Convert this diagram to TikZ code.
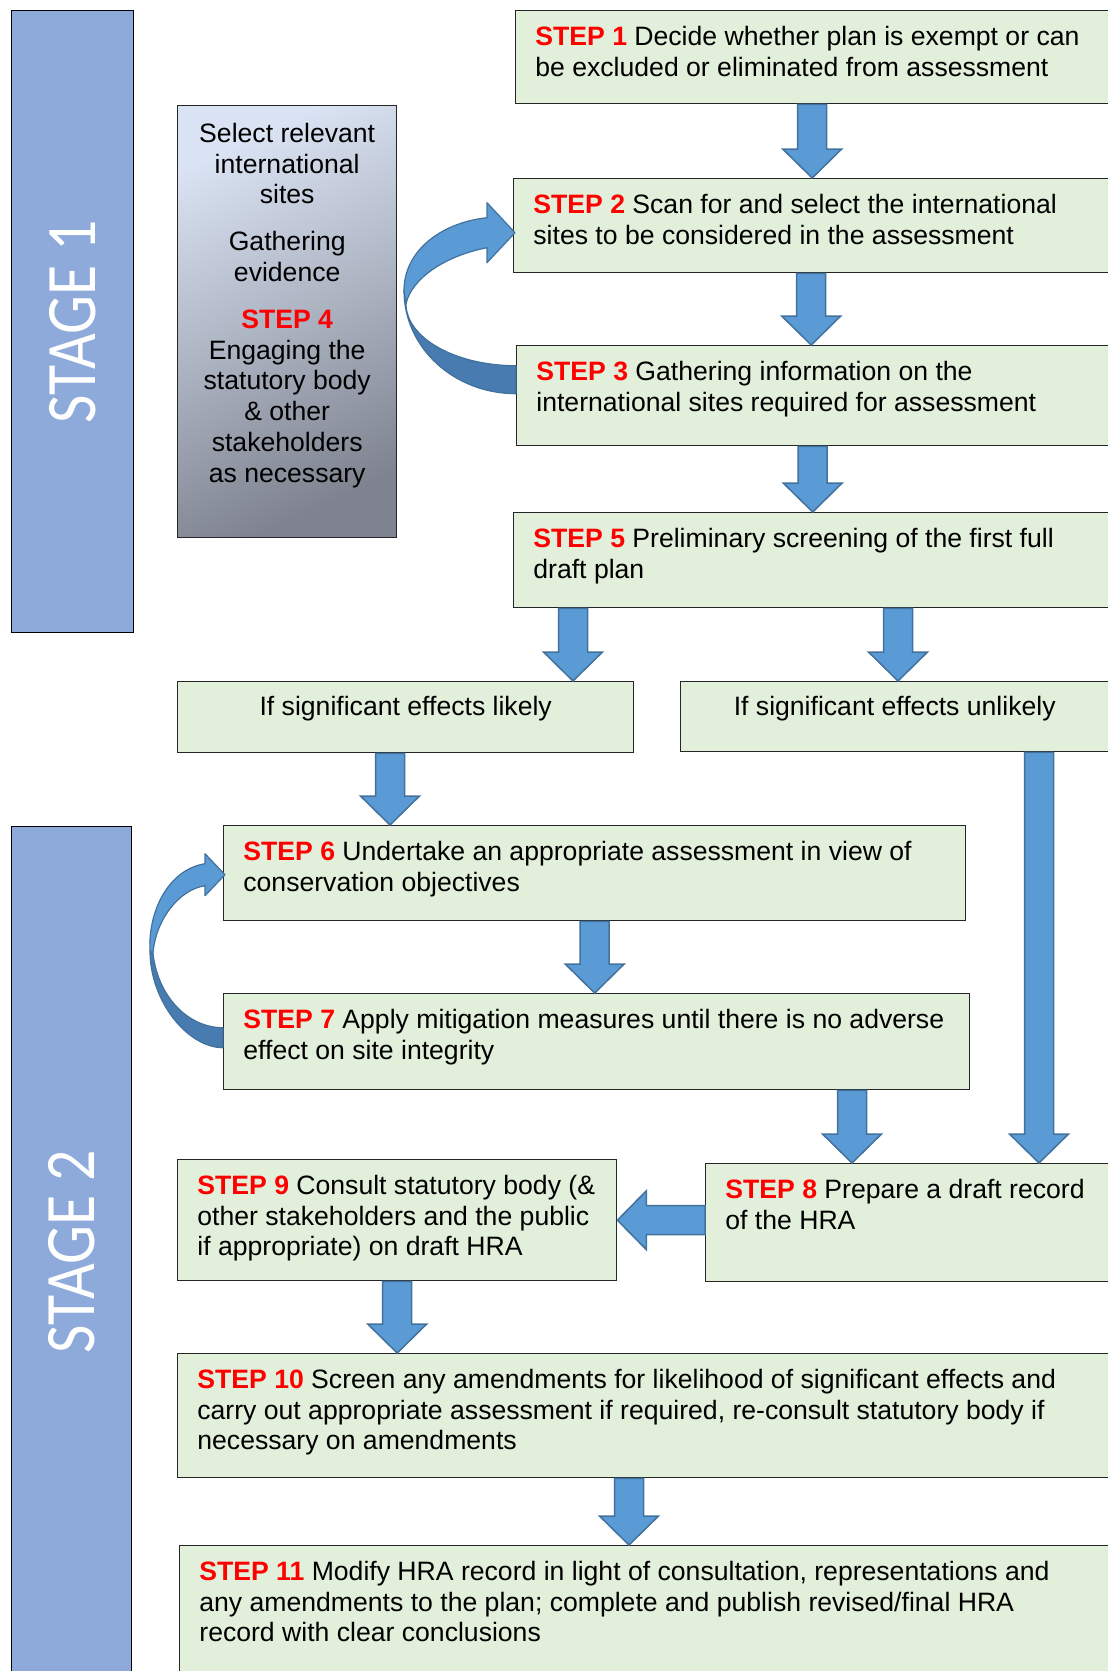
\documentclass[tikz,border=0pt]{standalone}
\usepackage{fontspec}
\usepackage{graphicx}
\setmainfont{Liberation Sans}
\newfontfamily\stagefont{Carlito}
\usetikzlibrary{calc}

\definecolor{stepgreen}{HTML}{E2EFDA}
\definecolor{boxline}{HTML}{262626}
\definecolor{stagefill}{HTML}{8EAADB}
\definecolor{arrowfill}{HTML}{5B9BD5}
\definecolor{arrowline}{HTML}{41719C}
\definecolor{arrowdark}{HTML}{487BB0}
\definecolor{steplight}{HTML}{DAE3F3}
\definecolor{stepgrey}{HTML}{7E838F}
\definecolor{stepred}{HTML}{FF0000}

\newcommand{\steplbl}[1]{{\color{stepred}\bfseries #1}}

\tikzset{
  stepbox/.style={draw=boxline, fill=stepgreen, line width=0.7pt, anchor=north west, inner sep=0pt},
  steptext/.style={anchor=north west, inner sep=0pt, align=left,
    font=\fontsize{13.3}{15.4}\selectfont},
  midtext/.style={steptext, anchor=north, align=center},
  stagebar/.style={draw=black, fill=stagefill, line width=0.6pt, anchor=north west, inner sep=0pt,
    text=white, font=\stagefont\fontsize{35.5}{40}\selectfont},
  gradbox/.style={draw=boxline, line width=0.7pt, anchor=north west, inner sep=0pt,
    top color=steplight, bottom color=stepgrey, shading angle=25},
  blockdown/.style={fill=arrowfill, draw=arrowline, line width=0.75pt,
    to path={let \p1=(\tikztostart), \p2=(\tikztotarget) in
      -- (\x1-7.25pt,\y1) -- (\x1-7.25pt,\y2+14.5pt) -- (\x1-14.75pt,\y2+14.5pt) -- (\x1,\y2)
      -- (\x1+14.75pt,\y2+14.5pt) -- (\x1+7.25pt,\y2+14.5pt) -- (\x1+7.25pt,\y1) -- cycle}},
  blockleft/.style={fill=arrowfill, draw=arrowline, line width=0.75pt,
    to path={let \p1=(\tikztostart), \p2=(\tikztotarget) in
      -- (\x1,\y1+7.25pt) -- (\x2+14.5pt,\y1+7.25pt) -- (\x2+14.5pt,\y1+14.75pt) -- (\x2,\y1)
      -- (\x2+14.5pt,\y1-14.75pt) -- (\x2+14.5pt,\y1-7.25pt) -- (\x1,\y1-7.25pt) -- cycle}},
  curvelight/.style={fill=arrowfill, draw=arrowline, line width=0.6pt, line join=round},
  curvedark/.style={fill=arrowdark, draw=arrowline, line width=0.6pt, line join=round}
}

\begin{document}
\begin{tikzpicture}[x=0.5pt, y=-0.5pt]
  \useasboundingbox (0,0) rectangle (1108,1671);

  % stages
  \node[stagebar, minimum width=61pt, minimum height=311pt] (st1) at (11,10)
    {\rotatebox{90}{\scalebox{0.87}[1]{STAGE 1}}};
  \node[stagebar, minimum width=60pt, minimum height=425pt] (st2) at (11,826)
    {\rotatebox{90}{\scalebox{0.87}[1]{STAGE 2}}};

  % boxes
  \node[stepbox, minimum width=296.5pt, minimum height=46.5pt] (s1) at (515,10) {};
  \node[stepbox, minimum width=297.5pt, minimum height=47pt] (s2) at (513,178) {};
  \node[stepbox, minimum width=296pt, minimum height=50pt] (s3) at (516,345) {};
  \node[stepbox, minimum width=297.5pt, minimum height=47.5pt] (s5) at (513,512) {};
  \node[gradbox, minimum width=109.5pt, minimum height=216pt] (ev) at (177,105) {};
  \node[stepbox, minimum width=228pt, minimum height=35.5pt] (lk) at (177,681) {};
  \node[stepbox, minimum width=214pt, minimum height=35pt] (un) at (680,681) {};
  \node[stepbox, minimum width=371pt, minimum height=47.5pt] (s6) at (223,825) {};
  \node[stepbox, minimum width=373pt, minimum height=48pt] (s7) at (223,993) {};
  \node[stepbox, minimum width=219.5pt, minimum height=60.5pt] (s9) at (177,1159) {};
  \node[stepbox, minimum width=201.5pt, minimum height=59pt] (s8) at (705,1163) {};
  \node[stepbox, minimum width=465.5pt, minimum height=62pt] (s10) at (177,1353) {};
  \node[stepbox, minimum width=464.5pt, minimum height=67.5pt] (s11) at (179,1545) {};

  % texts
  \node[steptext] (t1) at ([shift={(10pt,-7.8pt)}]s1.north west)
    {\steplbl{STEP 1} Decide whether plan is exempt or can\\be excluded or eliminated from assessment};
  \node[steptext] (t2) at ([shift={(10pt,-7.8pt)}]s2.north west)
    {\steplbl{STEP 2} Scan for and select the international\\sites to be considered in the assessment};
  \node[steptext] (t3) at ([shift={(10pt,-7.8pt)}]s3.north west)
    {\steplbl{STEP 3} Gathering information on the\\international sites required for assessment};
  \node[steptext] (t5) at ([shift={(10pt,-7.8pt)}]s5.north west)
    {\steplbl{STEP 5} Preliminary screening of the first full\\draft plan};
  \node[midtext] (t4) at ([yshift=-8.8pt]ev.north)
    {Select relevant\\international\\sites\\[8pt]Gathering\\evidence\\[8pt]\steplbl{STEP 4}\\Engaging the\\statutory body\\\& other\\stakeholders\\as necessary};
  \node[midtext] (tlk) at ([yshift=-7.3pt]lk.north) {If significant effects likely};
  \node[midtext] (tun) at ([yshift=-7.3pt]un.north) {If significant effects unlikely};
  \node[steptext] (t6) at ([shift={(10pt,-7.8pt)}]s6.north west)
    {\steplbl{STEP 6} Undertake an appropriate assessment in view of\\conservation objectives};
  \node[steptext] (t7) at ([shift={(10pt,-7.8pt)}]s7.north west)
    {\steplbl{STEP 7} Apply mitigation measures until there is no adverse\\effect on site integrity};
  \node[steptext] (t9) at ([shift={(10pt,-7.8pt)}]s9.north west)
    {\steplbl{STEP 9} Consult statutory body (\&\\other stakeholders and the public\\if appropriate) on draft HRA};
  \node[steptext] (t8) at ([shift={(10pt,-7.8pt)}]s8.north west)
    {\steplbl{STEP 8} Prepare a draft record\\of the HRA};
  \node[steptext] (t10) at ([shift={(10pt,-7.8pt)}]s10.north west)
    {\steplbl{STEP 10} Screen any amendments for likelihood of significant effects and\\carry out appropriate assessment if required, re-consult statutory body if\\necessary on amendments};
  \node[steptext] (t11) at ([shift={(10pt,-7.8pt)}]s11.north west)
    {\steplbl{STEP 11} Modify HRA record in light of consultation, representations and\\any amendments to the plan; complete and publish revised/final HRA\\record with clear conclusions};

  % block arrows
  \draw[blockdown] (s1.south) to (s2.north);
  \draw[blockdown] (s2.south) to (s2.south |- s3.north);
  \draw[blockdown] (s3.south) to (s3.south |- s5.north);
  \draw[blockdown] (573,0 |- s5.south) to (573,0 |- lk.north);
  \draw[blockdown] (898,0 |- s5.south) to (898,0 |- un.north);
  \draw[blockdown] (390,0 |- lk.south) to (390,0 |- s6.north);
  \draw[blockdown] (s6.south) to (s6.south |- s7.north);
  \draw[blockdown] (1039,0 |- un.south) to (1039,0 |- s8.north);
  \draw[blockdown] (852,0 |- s7.south) to (852,0 |- s8.north);
  \draw[blockleft] (s8.west |- s9.east) to (s9.east);
  \draw[blockdown] (s9.south) to (s9.south |- s10.north);
  \draw[blockdown] (629,0 |- s10.south) to (629,0 |- s11.north);

  % curved arrows
  \begin{scope}[shift={(s3.west)}]
    \filldraw[curvedark] (0,-2) .. controls (-62,-2) and (-112,-48) .. (-112,-105)
      -- (-110,-92) .. controls (-110,-58) and (-61,-30) .. (0,-30) -- cycle;
    \filldraw[curvelight] (-112,-105) .. controls (-112,-145) and (-75,-173) .. (-29,-178)
      -- (-29,-193) -- (-1,-163) -- (-29,-133) -- (-29,-148)
      .. controls (-70,-140) and (-104,-118) .. (-110,-92) -- cycle;
  \end{scope}
  \begin{scope}[shift={(s7.west)}]
    \filldraw[curvedark] (0,6) .. controls (-35,6) and (-73,-40) .. (-73,-91)
      -- (-70,-88) .. controls (-65,-45) and (-35,-14) .. (0,-14) -- cycle;
    \filldraw[curvelight] (-73,-91) .. controls (-75,-130) and (-55,-172) .. (-18,-178)
      -- (-18,-188) -- (2,-167) -- (-18,-146) -- (-18,-156)
      .. controls (-45,-152) and (-68,-120) .. (-70,-88) -- cycle;
  \end{scope}
\end{tikzpicture}
\end{document}
